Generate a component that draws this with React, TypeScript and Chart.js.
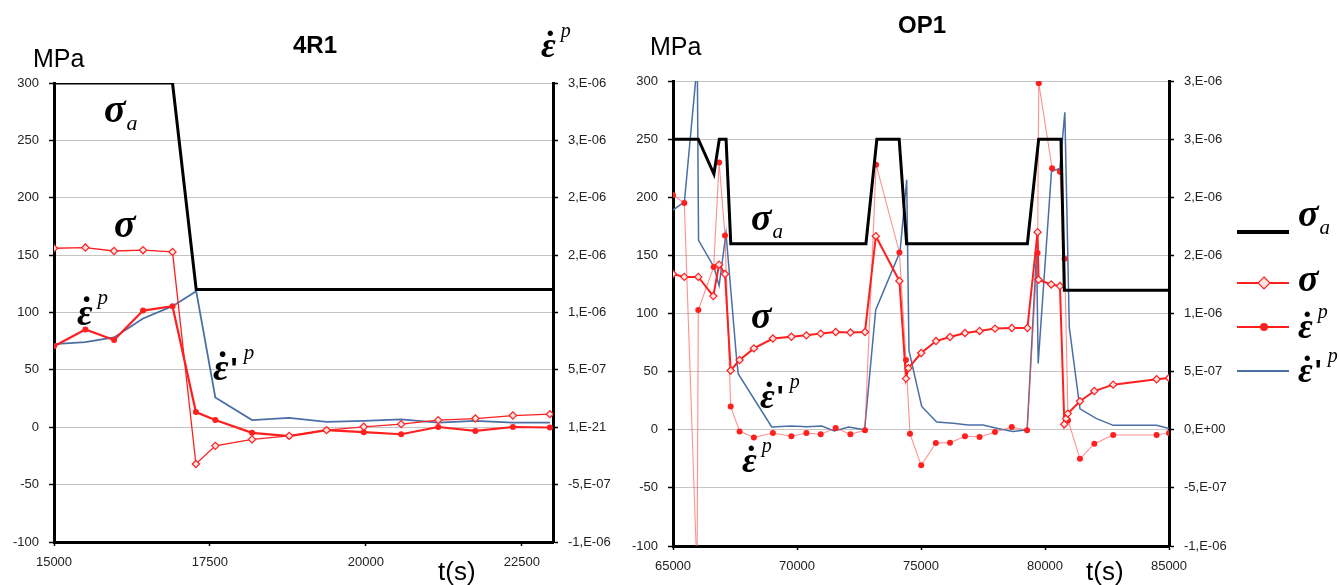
import React, { useEffect, useRef } from "react";
import { Chart, registerables } from "chart.js";
Chart.register(...registerables);

type Pt = [number, number];

// ---------------- 4R1 (left panel) ----------------
// time in s, stress in MPa, strain rates in 1e-7 1/s
const r1XTicks = [15000, 17500, 20000, 22500];
const r1SigmaA: Pt[] = [[15000, 300], [16900, 300], [17280, 120], [23000, 120]];
const r1Sigma: Pt[] = [
  [15000, 156], [15503, 156.6], [15963, 153.6], [16428, 154.3], [16900, 152.8],
  [17275, -32], [17586, -16.2], [18175, -10.6], [18771, -7.5], [19370, -2.5],
  [19966, 0.4], [20566, 2.7], [21160, 6.2], [21756, 7.6], [22357, 10.2], [22950, 11.4],
];
const r1EpsP: Pt[] = [
  [15000, 7.06], [15503, 8.52], [15963, 7.61], [16428, 10.17], [16900, 10.55],
  [17275, 1.32], [17586, 0.63], [18175, -0.49], [18771, -0.78], [19370, -0.25],
  [19966, -0.43], [20566, -0.61], [21160, 0.02], [21756, -0.32], [22357, 0.02], [22950, -0.02],
];
const r1EpsPrime: Pt[] = [
  [15000, 7.24], [15500, 7.42], [15963, 7.83], [16428, 9.48], [16900, 10.55],
  [17280, 11.86], [17586, 2.6], [18175, 0.62], [18771, 0.82], [19370, 0.47],
  [19966, 0.55], [20566, 0.68], [21160, 0.4], [21756, 0.55], [22357, 0.4], [22950, 0.4],
];
const r1Y2Labels = ["-1,E-06", "-5,E-07", "1,E-21", "5,E-07", "1,E-06", "2,E-06", "2,E-06", "3,E-06", "3,E-06"];

// ---------------- OP1 (right panel) ----------------
const r2XTicks = [65000, 70000, 75000, 80000, 85000];
const r2SigmaA: Pt[] = [
  [65000, 250], [66020, 250], [66650, 220], [66867, 250], [67140, 250], [67330, 160],
  [72780, 160], [73220, 250], [74120, 250], [74420, 160], [79290, 160], [79745, 250],
  [80645, 250], [80780, 120], [85000, 120],
];
const r2Sigma: Pt[] = [
  [65000, 134], [65456, 131.5], [66020, 131.5], [66625, 115], [66855, 142], [67097, 134],
  [67326, 51], [67685, 60], [68262, 70], [69028, 78.5], [69774, 80], [70379, 81.2],
  [70955, 82.7], [71560, 84.1], [72153, 83.6], [72741, 84.1], [73180, 166.5], [74130, 128],
  [74395, 44], [74490, 53], [75008, 66], [75605, 76.3], [76170, 79.8], [76773, 83.2],
  [77362, 85], [77983, 87], [78660, 87.5], [79290, 87.5], [79700, 170], [79740, 129],
  [80250, 125], [80603, 123.6], [80780, 4.7], [80850, 9.6], [80920, 13.9], [81410, 24.5],
  [81990, 33.3], [82750, 38.8], [84500, 43.4], [85000, 44.5],
];
const r2EpsP: Pt[] = [
  [65000, 20.2], [65456, 19.5], [65970, -12.5], [66020, 10.3], [66640, 14], [66860, 23],
  [67097, 16.7], [67326, 2], [67685, -0.14], [68262, -0.67], [69028, -0.28], [69774, -0.56],
  [70379, -0.28], [70955, -0.39], [71560, 0.15], [72153, -0.39], [72741, -0.05], [73190, 22.8],
  [74130, 15.25], [74395, 6], [74556, -0.35], [75008, -3.06], [75600, -1.14], [76170, -1.11],
  [76773, -0.56], [77362, -0.62], [77983, -0.2], [78660, 0.24], [79277, -0.05], [79700, 15.2],
  [79750, 29.8], [80285, 22.5], [80603, 22.2], [80789, 14.7], [80930, 0.8], [81410, -2.5],
  [81990, -1.2], [82750, -0.45], [84500, -0.45], [85000, -0.28],
];
const r2EpsPrime: Pt[] = [
  [65000, 18.9], [65460, 19.6], [65980, 31.6], [66030, 16.3], [66650, 14], [66860, 12.4],
  [67137, 16.9], [67568, 6], [67633, 4.8], [68980, 0.24], [69775, 0.32], [70400, 0.25],
  [71000, 0.32], [71504, -0.1], [72080, 0.24], [72725, 0], [73173, 10.3], [74153, 15.3],
  [74423, 21.5], [74515, 6.8], [75028, 2], [75632, 0.67], [76302, 0.55], [76900, 0.4],
  [77500, 0.4], [78100, 0.1], [78700, -0.15], [79280, 0], [79660, 15.3], [79725, 5.7],
  [80260, 22.2], [80600, 22.5], [80800, 27.3], [80980, 8.8], [81410, 1.8], [82080, 0.96],
  [82750, 0.38], [84500, 0.38], [85000, 0.1],
];
const r2Y2Labels = ["-1,E-06", "-5,E-07", "0,E+00", "5,E-07", "1,E-06", "2,E-06", "2,E-06", "3,E-06", "3,E-06"];

const yTicks = [-100, -50, 0, 50, 100, 150, 200, 250, 300];
const y2Ticks = [-10, -5, 0, 5, 10, 15, 20, 25, 30];

const SANS = '"Liberation Sans", Arial, sans-serif';
const SERIF = '"Liberation Serif", "DejaVu Serif", serif';
const RED = "#ff1f1f";
const BLUE = "#4a6fa5";

const toXY = (a: Pt[]) => a.map(([x, y]) => ({ x, y }));

function drawSigma(ctx: CanvasRenderingContext2D, x: number, y: number, size: number, sub?: string) {
  ctx.fillStyle = "#000";
  ctx.textAlign = "left";
  ctx.textBaseline = "alphabetic";
  ctx.font = `bold italic ${size}px ${SERIF}`;
  ctx.fillText("σ", x, y);
  if (sub) {
    const w = ctx.measureText("σ").width;
    ctx.font = `italic ${Math.round(size * 0.55)}px ${SERIF}`;
    ctx.fillText(sub, x + w + 1, y + size * 0.2);
  }
}

function drawEps(ctx: CanvasRenderingContext2D, x: number, y: number, size: number, prime: boolean) {
  ctx.fillStyle = "#000";
  ctx.textBaseline = "alphabetic";
  ctx.textAlign = "left";
  ctx.font = `bold italic ${size}px ${SERIF}`;
  ctx.fillText("ε", x, y);
  let w = ctx.measureText("ε").width;
  ctx.textAlign = "center";
  ctx.font = `bold ${size}px ${SERIF}`;
  ctx.fillText("˙", x + w * 0.62, y - size * 0.04);
  ctx.textAlign = "left";
  if (prime) {
    ctx.font = `bold ${Math.round(size * 0.8)}px ${SANS}`;
    ctx.fillText("'", x + w + 2, y - size * 0.05);
    w += ctx.measureText("'").width + 3;
  }
  ctx.font = `italic ${Math.round(size * 0.55)}px ${SERIF}`;
  ctx.fillText("p", x + w + 5, y - size * 0.55);
}

function plainText(ctx: CanvasRenderingContext2D, s: string, x: number, y: number, font: string, align: CanvasTextAlign = "left") {
  ctx.fillStyle = "#000";
  ctx.font = font;
  ctx.textAlign = align;
  ctx.textBaseline = "alphabetic";
  ctx.fillText(s, x, y);
}

type PanelOpts = {
  xMin: number; xMax: number; xTicks: number[];
  padTop: number; yW: number; y2W: number; xH: number;
  y2Labels: string[];
  datasets: any[];
  annotate: (ctx: CanvasRenderingContext2D) => void;
};

function makeConfig(o: PanelOpts): any {
  const tickFont = { family: SANS, size: 13 };
  return {
    type: "line",
    data: { datasets: o.datasets },
    options: {
      animation: false,
      responsive: false,
      maintainAspectRatio: false,
      layout: { padding: { top: o.padTop, left: 0, right: 0, bottom: 0 } },
      plugins: { legend: { display: false }, tooltip: { enabled: false }, title: { display: false } },
      scales: {
        x: {
          type: "linear",
          min: o.xMin,
          max: o.xMax,
          afterBuildTicks: (s: any) => { s.ticks = o.xTicks.map((v) => ({ value: v })); },
          afterFit: (s: any) => { s.height = o.xH; },
          ticks: { font: tickFont, color: "#222", padding: 9, maxRotation: 0, callback: (v: any) => String(v) },
          grid: { drawOnChartArea: false, drawTicks: true, tickLength: 4, tickColor: "#000", tickWidth: 1.5 },
          border: { display: true, color: "#000", width: 3 },
        },
        y: {
          type: "linear",
          position: "left",
          min: -100,
          max: 300,
          afterBuildTicks: (s: any) => { s.ticks = yTicks.map((v) => ({ value: v })); },
          afterFit: (s: any) => { s.width = o.yW; },
          ticks: { font: tickFont, color: "#222", padding: 10, callback: (v: any) => String(v) },
          grid: { color: "#c4c4c4", lineWidth: 1, drawTicks: true, tickLength: 5, tickColor: "#000", tickWidth: 1.5 },
          border: { display: true, color: "#000", width: 3 },
        },
        y2: {
          type: "linear",
          position: "right",
          min: -10,
          max: 30,
          afterBuildTicks: (s: any) => { s.ticks = y2Ticks.map((v) => ({ value: v })); },
          afterFit: (s: any) => { s.width = o.y2W; },
          ticks: { font: tickFont, color: "#222", padding: 10, callback: (_v: any, i: number) => o.y2Labels[i] },
          grid: { drawOnChartArea: false, drawTicks: true, tickLength: 5, tickColor: "#000", tickWidth: 1.5 },
          border: { display: true, color: "#000", width: 3 },
        },
      },
    },
    plugins: [{ id: "annot", afterDraw: (c: any) => { c.ctx.save(); o.annotate(c.ctx); c.ctx.restore(); } }],
  };
}

function sigmaADs(data: Pt[]) {
  return { label: "σa", data: toXY(data), yAxisID: "y", borderColor: "#000", borderWidth: 3, pointRadius: 0, tension: 0 };
}
function sigmaDs(data: Pt[], width: number) {
  return {
    label: "σ", data: toXY(data), yAxisID: "y", borderColor: RED, borderWidth: width, tension: 0,
    pointStyle: "rectRot", pointRadius: 3.6, pointBorderWidth: 1.2, pointBackgroundColor: "#ffe6e6", pointBorderColor: RED,
  };
}
function epsDs(data: Pt[], width: number, color: string) {
  return {
    label: "eps", data: toXY(data), yAxisID: "y2", borderColor: color, borderWidth: width, tension: 0,
    pointStyle: "circle", pointRadius: 3, pointBorderWidth: 0, pointBackgroundColor: RED, pointBorderColor: RED,
  };
}
function epsPrimeDs(data: Pt[], width: number) {
  return { label: "eps'", data: toXY(data), yAxisID: "y2", borderColor: BLUE, borderWidth: width, pointRadius: 0, tension: 0 };
}

export default function App() {
  const leftRef = useRef<HTMLCanvasElement>(null);
  const rightRef = useRef<HTMLCanvasElement>(null);

  useEffect(() => {
    const left = new Chart(leftRef.current as HTMLCanvasElement, makeConfig({
      xMin: 15000, xMax: 23000, xTicks: r1XTicks,
      padTop: 83, yW: 54, y2W: 67, xH: 43,
      y2Labels: r1Y2Labels,
      datasets: [sigmaADs(r1SigmaA), sigmaDs(r1Sigma, 1.3), epsDs(r1EpsP, 2.2, RED), epsPrimeDs(r1EpsPrime, 1.8)],
      annotate: (ctx) => {
        plainText(ctx, "4R1", 315, 53, `bold 24px ${SANS}`, "center");
        plainText(ctx, "MPa", 33, 67, `25px ${SANS}`);
        drawEps(ctx, 541, 57, 36, false);
        drawSigma(ctx, 104, 122, 40, "a");
        drawSigma(ctx, 114, 237, 40);
        drawEps(ctx, 77, 325, 38, false);
        drawEps(ctx, 213, 380, 38, true);
        plainText(ctx, "t(s)", 438, 580, `26px ${SANS}`);
      },
    }));

    const right = new Chart(rightRef.current as HTMLCanvasElement, makeConfig({
      xMin: 65000, xMax: 85000, xTicks: r2XTicks,
      padTop: 81, yW: 53, y2W: 171, xH: 39,
      y2Labels: r2Y2Labels,
      datasets: [sigmaADs(r2SigmaA), sigmaDs(r2Sigma, 2), epsDs(r2EpsP, 1.1, "rgba(255,70,70,0.6)"), epsPrimeDs(r2EpsPrime, 1.5)],
      annotate: (ctx) => {
        const ox = 620;
        plainText(ctx, "OP1", 922 - ox, 33, `bold 24px ${SANS}`, "center");
        plainText(ctx, "MPa", 650 - ox, 55, `25px ${SANS}`);
        drawSigma(ctx, 751 - ox, 230, 38, "a");
        drawSigma(ctx, 751 - ox, 328, 38);
        drawEps(ctx, 760 - ox, 408, 36, true);
        drawEps(ctx, 742 - ox, 472, 36, false);
        plainText(ctx, "t(s)", 1086 - ox, 580, `26px ${SANS}`);

        // legend
        const lx0 = 1237 - ox, lx1 = 1289 - ox, tx = 1298 - ox;
        ctx.lineCap = "butt";
        ctx.strokeStyle = "#000"; ctx.lineWidth = 4;
        ctx.beginPath(); ctx.moveTo(lx0, 232); ctx.lineTo(lx1, 232); ctx.stroke();
        drawSigma(ctx, tx, 226, 38, "a");

        ctx.strokeStyle = RED; ctx.lineWidth = 2;
        ctx.beginPath(); ctx.moveTo(lx0, 283); ctx.lineTo(lx1, 283); ctx.stroke();
        ctx.fillStyle = "#ffe6e6"; ctx.lineWidth = 1.2;
        ctx.beginPath();
        ctx.moveTo(1264 - ox, 277); ctx.lineTo(1270 - ox, 283); ctx.lineTo(1264 - ox, 289); ctx.lineTo(1258 - ox, 283); ctx.closePath();
        ctx.fill(); ctx.stroke();
        drawSigma(ctx, tx, 291, 38);

        ctx.strokeStyle = RED; ctx.lineWidth = 2;
        ctx.beginPath(); ctx.moveTo(lx0, 327); ctx.lineTo(lx1, 327); ctx.stroke();
        ctx.fillStyle = RED;
        ctx.beginPath(); ctx.arc(1264 - ox, 327, 4, 0, Math.PI * 2); ctx.fill();
        drawEps(ctx, tx, 338, 36, false);

        ctx.strokeStyle = BLUE; ctx.lineWidth = 2;
        ctx.beginPath(); ctx.moveTo(lx0, 371); ctx.lineTo(lx1, 371); ctx.stroke();
        drawEps(ctx, tx, 382, 36, true);
      },
    }));

    return () => { left.destroy(); right.destroy(); };
  }, []);

  return (
    <div style={{ position: "absolute", left: 0, top: 0, width: 1340, height: 585, background: "#fff", overflow: "hidden" }}>
      <canvas ref={leftRef} width={620} height={585} style={{ position: "absolute", left: 0, top: 0 }} />
      <canvas ref={rightRef} width={720} height={585} style={{ position: "absolute", left: 620, top: 0 }} />
    </div>
  );
}
